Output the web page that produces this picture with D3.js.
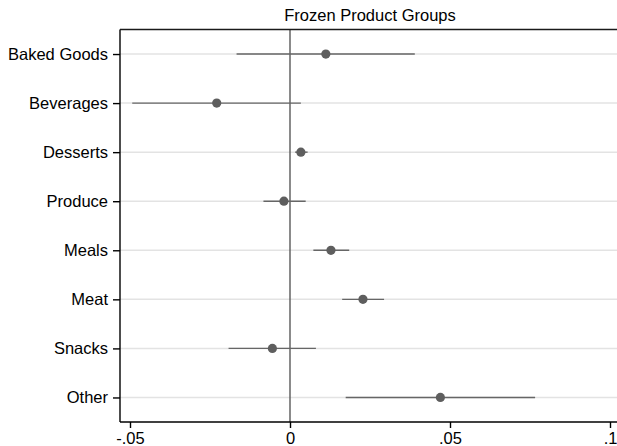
<!DOCTYPE html>
<html>
<head>
<meta charset="utf-8">
<script src="https://cdn.jsdelivr.net/npm/d3@7"></script>
<style>
  body { margin: 0; background: #fff; }
  svg { display: block; font-family: "Liberation Sans", Arial, sans-serif; }
</style>
</head>
<body>
<div id="chart"></div>
<script>
const groups = ['Baked Goods', 'Beverages', 'Desserts', 'Produce', 'Meals', 'Meat', 'Snacks', 'Other'];
const estimates = [0.0112, -0.0229, 0.0034, -0.0019, 0.0128, 0.0228, -0.0055, 0.0470];
const lower = [-0.0167, -0.0493, 0.0016, -0.0083, 0.0073, 0.0163, -0.0192, 0.0174];
const upper = [0.0390, 0.0034, 0.0055, 0.0049, 0.0185, 0.0294, 0.0081, 0.0766];
const xTicks = [-0.05, 0, 0.05, 0.1];
const xTickLabels = ['-.05', '0', '.05', '.1'];

const width = 617, height = 446;
const margin = { top: 29.5, right: -3, bottom: 24, left: 120 };

const data = groups.map((g, i) => ({ group: g, est: estimates[i], lo: lower[i], hi: upper[i] }));

const xScale = d3.scaleLinear()
  .domain([-0.05, 0.1])
  .range([130, 610]);

const yScale = d3.scalePoint()
  .domain(groups)
  .range([margin.top, height - margin.bottom])
  .padding(0.5);

const svg = d3.select('#chart').append('svg')
  .attr('width', width)
  .attr('height', height);

const plotLeft = margin.left, plotRight = width - margin.right;
const plotTop = margin.top, plotBottom = height - margin.bottom;

// horizontal grid lines
svg.append('g')
  .selectAll('line')
  .data(groups)
  .enter()
  .append('line')
  .attr('x1', plotLeft)
  .attr('x2', plotRight)
  .attr('y1', d => yScale(d))
  .attr('y2', d => yScale(d))
  .attr('stroke', '#e3e3e3')
  .attr('stroke-width', 1.5);

// zero reference line
svg.append('line')
  .attr('x1', xScale(0))
  .attr('x2', xScale(0))
  .attr('y1', plotTop)
  .attr('y2', plotBottom)
  .attr('stroke', '#595959')
  .attr('stroke-width', 1.4);

// confidence intervals
const rows = svg.append('g')
  .selectAll('g')
  .data(data)
  .enter()
  .append('g');

rows.append('line')
  .attr('x1', d => xScale(d.lo))
  .attr('x2', d => xScale(d.hi))
  .attr('y1', d => yScale(d.group))
  .attr('y2', d => yScale(d.group))
  .attr('stroke', '#666666')
  .attr('stroke-width', 1.4);

rows.append('circle')
  .attr('cx', d => xScale(d.est))
  .attr('cy', d => yScale(d.group))
  .attr('r', 4.6)
  .attr('fill', '#5e5e5e');

// axes
const xAxis = d3.axisBottom(xScale)
  .tickValues(xTicks)
  .tickFormat((d, i) => xTickLabels[i])
  .tickSize(6)
  .tickSizeOuter(0)
  .tickPadding(4);

const yAxis = d3.axisLeft(yScale)
  .tickSize(7)
  .tickSizeOuter(0)
  .tickPadding(5);

const gx = svg.append('g')
  .attr('transform', `translate(0, ${plotBottom})`)
  .call(xAxis);
gx.select('.domain').attr('d', `M${plotLeft},0H${plotRight}`);

const gy = svg.append('g')
  .attr('transform', `translate(${plotLeft}, 0)`)
  .call(yAxis);
gy.select('.domain').attr('d', `M0,${plotTop}V${plotBottom}`);

svg.selectAll('.tick text')
  .attr('font-size', 16.5)
  .attr('font-family', '"Liberation Sans", Arial, sans-serif')
  .attr('fill', '#000');
svg.selectAll('.domain, .tick line')
  .attr('stroke', '#000')
  .attr('stroke-width', 1.4);

// top border
svg.append('line')
  .attr('x1', plotLeft)
  .attr('x2', plotRight)
  .attr('y1', plotTop)
  .attr('y2', plotTop)
  .attr('stroke', '#1a1a1a')
  .attr('stroke-width', 1.4);

// title
svg.append('text')
  .attr('x', (plotLeft + 620) / 2)
  .attr('y', 21)
  .attr('text-anchor', 'middle')
  .attr('font-size', 16.5)
  .attr('fill', '#000')
  .text('Frozen Product Groups');
</script>
</body>
</html>
